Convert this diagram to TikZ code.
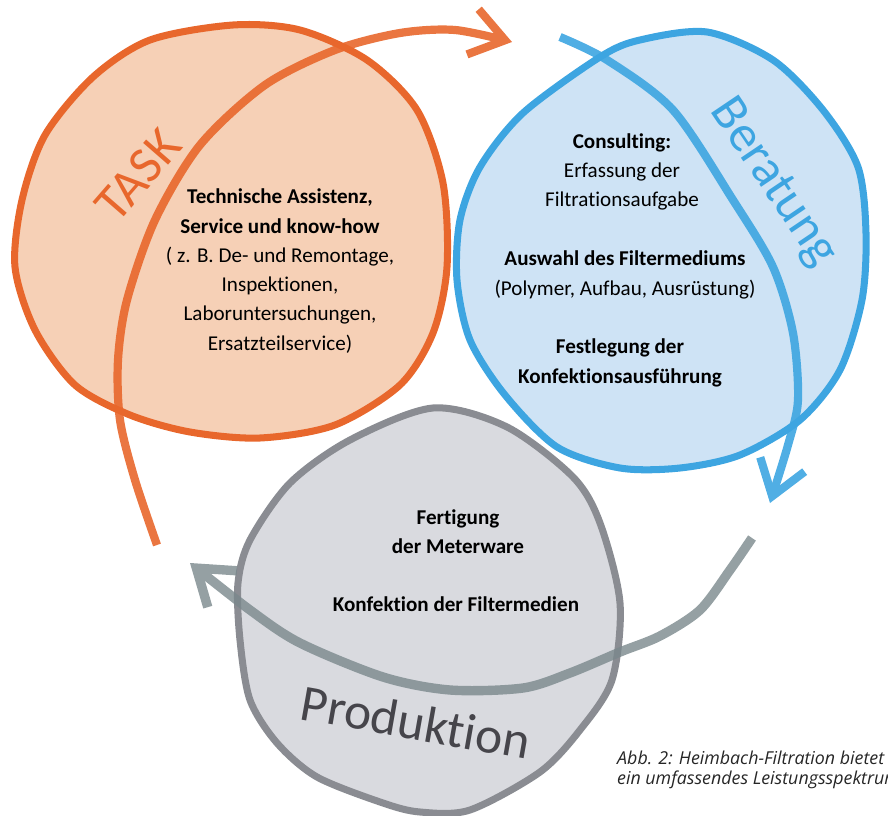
\documentclass[tikz,border=0pt]{standalone}
\usepackage{fontspec}
\setmainfont{Carlito}[Ligatures=NoCommon]
\newfontfamily\capfont{Open Sans}
\usepackage{xcolor}
\usetikzlibrary{arrows.meta, positioning}

\definecolor{taskorange}{HTML}{E8672C}
\definecolor{taskfill}{HTML}{F6D0B6}
\definecolor{beratblue}{HTML}{3DA5E1}
\definecolor{beratfill}{HTML}{CEE3F5}
\definecolor{prodgrey}{HTML}{8A8C92}
\definecolor{prodfill}{HTML}{D9DADF}
\definecolor{prodarrow}{HTML}{7A888C}
\definecolor{prodtext}{HTML}{46454B}

\begin{document}
\begin{tikzpicture}[x=0.03cm, y=-0.03cm, line cap=round, line join=round]
\tikzstyle{blob} = [line width=6pt]
\tikzstyle{txt} = [align=center, font=\fontsize{18}{25}\selectfont, inner sep=0pt]
\tikzstyle{title} = [font=\fontsize{44}{44}\selectfont, inner sep=0pt]
\tikzstyle{loop} = [line width=7pt, -{Straight Barb[length=10mm, width=14mm]}]

\useasboundingbox (0,0) rectangle (888,816);

% the three circles
\filldraw[blob, draw=taskorange, fill=taskfill] plot[smooth cycle] coordinates {
  (93,77) (150,40) (233,25) (300,30) (367,60) (417,110) (443,183) (447,267)
  (433,333) (400,385) (335,425) (260,438) (190,432) (130,415) (75,385)
  (35,330) (15,267) (22,200) (45,135)};
\filldraw[blob, draw=beratblue, fill=beratfill] plot[smooth cycle] coordinates {
  (523,113) (600,57) (640,40) (707,32) (773,60) (823,110) (858,167) (866,233)
  (862,300) (840,370) (800,420) (740,455) (680,468) (620,468) (557,447)
  (505,395) (470,340) (457,280) (460,220) (480,167)};
\filldraw[blob, draw=prodgrey, fill=prodfill] plot[smooth cycle] coordinates {
  (433,408) (507,427) (573,477) (600,523) (620,603) (612,680) (580,730)
  (540,772) (470,810) (420,812) (383,803) (317,777) (277,743) (250,700)
  (240,640) (238,583) (250,540) (290,483) (350,440)};

% texts
\node[txt]	at (280,271)	(tasktext)	{\textbf{Technische Assistenz,}\\ \textbf{Service und know-how}\\
  ( z. B. De- und Remontage,\\ Inspektionen,\\ Laboruntersuchungen,\\ Ersatzteilservice)};
\node[txt]	at (622,172)	(consult)	{\textbf{Consulting:}\\ Erfassung der\\ Filtrationsaufgabe};
\node[txt]	at (625,275)	(auswahl)	{\textbf{Auswahl des Filtermediums}\\ (Polymer, Aufbau, Ausrüstung)};
\node[txt]	at (620,363)	(festlegung)	{\textbf{Festlegung der}\\ \textbf{Konfektionsausführung}};
\node[txt]	at (458,532)	(fertigung)	{\textbf{Fertigung}\\ \textbf{der Meterware}};
\node[txt]	at (456,604)	(konfektion)	{\textbf{Konfektion der Filtermedien}};

\node[title, text=taskorange, rotate=49]	at (138,175)	(task)	{TASK};
\node[title, text=beratblue, rotate=-56]	at (773,183)	(beratung)	{Beratung};
\node[title, text=prodtext, rotate=-10]	at (416,722)	(produktion)	{Produktion};

\node[anchor=west, align=left, inner sep=0pt, text=black!85,
  font=\capfont\itshape\fontsize{15.2}{17.5}\selectfont]	at (617,770)	(caption)
  {Abb. 2: Heimbach-Filtration bietet\\ ein umfassendes Leistungsspektrum};

% arrows
\coordinate (taskstart)	at (157,545);
\coordinate (taskend)	at (512,42);
\coordinate (beratstart)	at (560,37);
\coordinate (beratend)	at (770,503);
\coordinate (prodstart)	at (752,538);
\coordinate (prodend)	at (190,563);

\begin{scope}[transparency group, opacity=0.9]
\draw[loop, taskorange] plot[smooth] coordinates {(taskstart) (135,480) (120,420) (118,360)
  (127,300) (155,220) (200,145) (265,85) (335,50) (400,33) (455,30) (taskend)};
\end{scope}
\begin{scope}[transparency group, opacity=0.9]
\draw[loop, beratblue] plot[smooth] coordinates {(beratstart) (607,60) (673,110) (733,200)
  (773,267) (793,333) (798,400) (788,445) (beratend)};
\end{scope}
\begin{scope}[transparency group, opacity=0.8]
\draw[loop, prodarrow, line width=8pt] plot[smooth] coordinates {(prodstart) (730,570) (700,610)
  (660,636) (620,652) (570,673) (523,688) (450,690) (383,677) (300,643) (250,610) (prodend)};
\end{scope}
\end{tikzpicture}
\end{document}
